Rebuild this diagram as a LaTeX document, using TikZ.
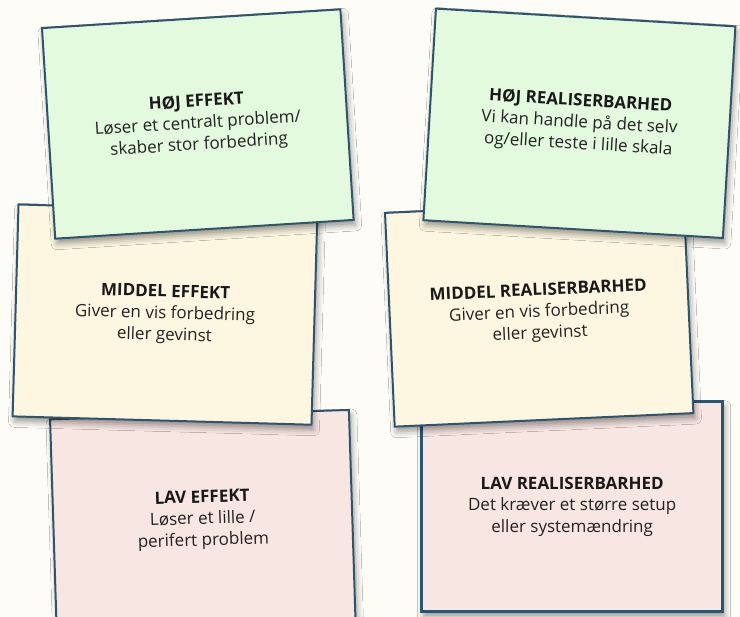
\documentclass[tikz,border=0pt]{standalone}
\usepackage{fontspec}
\setmainfont{Open Sans}
\usetikzlibrary{shadows.blur}

\definecolor{paper}{RGB}{253,252,246}
\definecolor{edge}{RGB}{47,84,110}
\definecolor{ink}{RGB}{34,34,34}
\definecolor{cardgreen}{RGB}{227,250,223}
\definecolor{cardyellow}{RGB}{253,247,225}
\definecolor{cardpink}{RGB}{248,230,226}

\tikzset{
  card/.style={rectangle, draw=edge, line width=2pt, minimum width=299pt,
    minimum height=211pt, inner sep=0pt, outer sep=0pt, align=center,
    text=ink, font=\fontsize{17}{21.5}\selectfont,
    blur shadow={shadow xshift=2pt, shadow yshift=-5pt,
      shadow blur radius=6pt, shadow opacity=40}},
  greencard/.style={card, fill=cardgreen},
  yellowcard/.style={card, fill=cardyellow},
  pinkcard/.style={card, fill=cardpink}
}

\newcommand{\cardhead}[1]{{\bfseries\color{black!90}#1}}

\begin{document}
\begin{tikzpicture}[x=1pt, y=-1pt]
  % page
  \fill[paper] (0,0) rectangle (740,617);
  \useasboundingbox (0,0) rectangle (740,617);
  \clip (0,0) rectangle (740,617);

  % bottom row: low
  \node[pinkcard, rotate=1.8] (lowEffect) at (202.8,520.1)
    {\cardhead{LAV EFFEKT}\\Løser et lille /\\perifert problem};
  \node[pinkcard, line width=3pt, minimum width=301pt, minimum height=210pt]
    (lowReal) at (572.2,506.7)
    {\cardhead{LAV REALISERBARHED}\\Det kræver et større setup\\eller systemændring};

  % middle row: medium
  \node[yellowcard, rotate=-1.6, minimum height=212pt] (midEffect) at (165,314.6)
    {\cardhead{MIDDEL EFFEKT}\\Giver en vis forbedring\\eller gevinst};
  \node[yellowcard, rotate=2.6, minimum height=214pt] (midReal) at (539.2,313)
    {\cardhead{MIDDEL REALISERBARHED}\\Giver en vis forbedring\\eller gevinst};

  % top row: high
  \node[greencard, rotate=3.6] (highEffect) at (197.8,124)
    {\cardhead{HØJ EFFEKT}\\Løser et centralt problem/\\skaber stor forbedring};
  \node[greencard, rotate=-3.4, minimum width=300pt, minimum height=212pt]
    (highReal) at (579.4,123.3)
    {\cardhead{HØJ REALISERBARHED}\\Vi kan handle på det selv\\og/eller teste i lille skala};
\end{tikzpicture}
\end{document}
